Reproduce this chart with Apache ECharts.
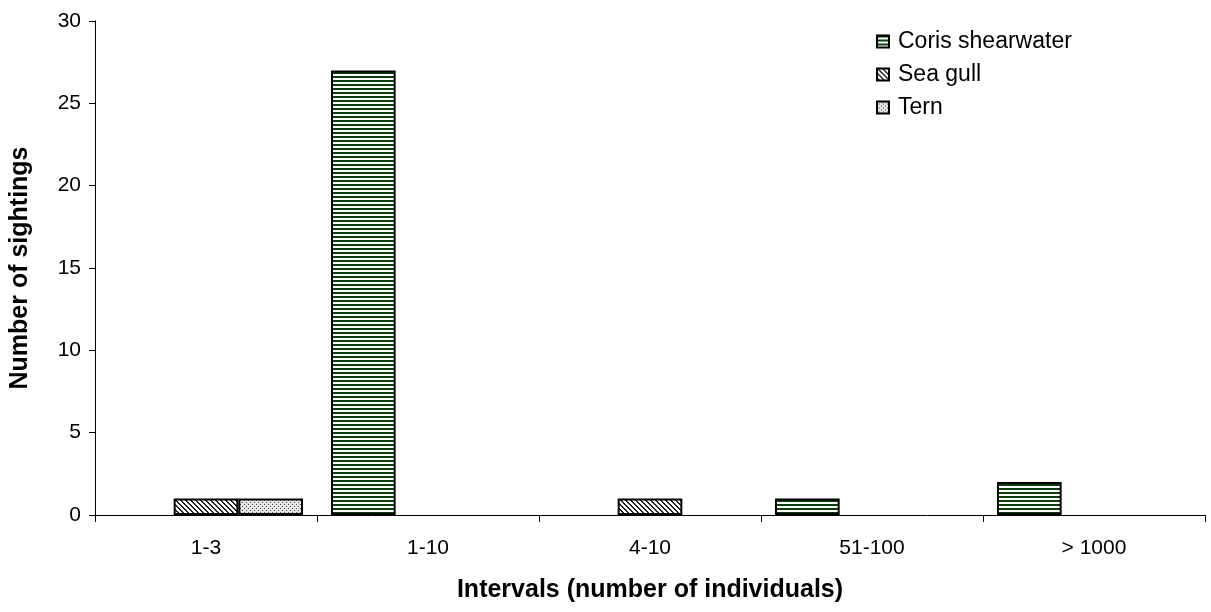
<!DOCTYPE html>
<html>
<head>
<meta charset="utf-8">
<script src="https://cdn.jsdelivr.net/npm/echarts@6/dist/echarts.min.js"></script>
<style>
  html, body { margin: 0; padding: 0; background: #fff; }
  #chart { width: 1211px; height: 612px; }
</style>
</head>
<body>
<div id="chart"></div>
<script>
// Sightings per group-size interval
const categories = ['1-3', '1-10', '4-10', '51-100', '> 1000'];
const corisShearwater = [0, 27, 0, 1, 2];
const seaGull = [1, 0, 1, 0, 0];
const tern = [1, 0, 0, 0, 0];
const seriesNames = ['Coris shearwater', 'Sea gull', 'Tern'];
const yTicks = { min: 0, max: 30, interval: 5 };

// Small tiles used as fill patterns
function makeTile(w, h, bg, paint) {
  const c = document.createElement('canvas');
  c.width = w; c.height = h;
  const ctx = c.getContext('2d');
  ctx.fillStyle = bg;
  ctx.fillRect(0, 0, w, h);
  paint(ctx);
  return { image: c, repeat: 'repeat' };
}

const stripes = makeTile(4, 4, '#ffffff', ctx => {
  ctx.fillStyle = '#0a3f0a';
  ctx.fillRect(0, 0, 4, 2);
});

const hatch = makeTile(5, 5, '#ffffff', ctx => {
  ctx.fillStyle = '#222222';
  for (let y = 0; y < 5; y++) {
    for (let x = 0; x < 5; x++) {
      if (((x - y) % 5 + 5) % 5 < 2) ctx.fillRect(x, y, 1, 1);
    }
  }
});

const dots = makeTile(4, 4, '#e4e4e4', ctx => {
  ctx.fillStyle = '#555555';
  ctx.fillRect(0, 0, 1, 1);
  ctx.fillRect(2, 2, 1, 1);
});

const fills = [stripes, hatch, dots];
const values = [corisShearwater, seaGull, tern];

const font = 'Liberation Sans, Arial, sans-serif';

const chart = echarts.init(document.getElementById('chart'));
chart.setOption({
  animation: false,
  grid: { left: 95, right: 6, top: 21, bottom: 97, containLabel: false },
  legend: {
    orient: 'vertical',
    left: 876,
    top: 30,
    padding: 0,
    itemWidth: 12,
    itemHeight: 12,
    itemGap: 10,
    icon: 'rect',
    textStyle: { fontFamily: font, fontSize: 23, color: '#000', padding: [0, 0, 0, 4] },
    data: seriesNames
  },
  xAxis: {
    type: 'category',
    data: categories,
    name: 'Intervals (number of individuals)',
    nameLocation: 'middle',
    nameGap: 63,
    nameTextStyle: { fontFamily: font, fontSize: 25, fontWeight: 'bold', color: '#000' },
    axisLine: { lineStyle: { color: '#000', width: 1 } },
    axisTick: { show: true, length: 7, lineStyle: { color: '#000' } },
    axisLabel: { fontFamily: font, fontSize: 21, color: '#000', margin: 23 }
  },
  yAxis: {
    type: 'value',
    min: yTicks.min,
    max: yTicks.max,
    interval: yTicks.interval,
    name: 'Number of sightings',
    nameLocation: 'middle',
    nameGap: 62,
    nameTextStyle: { fontFamily: font, fontSize: 25, fontWeight: 'bold', color: '#000' },
    axisLine: { show: true, lineStyle: { color: '#000', width: 1 } },
    axisTick: { show: true, length: 6, lineStyle: { color: '#000' } },
    axisLabel: { fontFamily: font, fontSize: 21, color: '#000', margin: 14 },
    splitLine: { show: false }
  },
  series: seriesNames.map((name, i) => ({
    name,
    type: 'bar',
    barGap: '0%',
    barCategoryGap: '12.6%',
    data: values[i].map(v => (v === 0 ? '-' : v)),
    itemStyle: { color: fills[i], borderColor: '#000', borderWidth: 2 }
  }))
});
</script>
</body>
</html>
